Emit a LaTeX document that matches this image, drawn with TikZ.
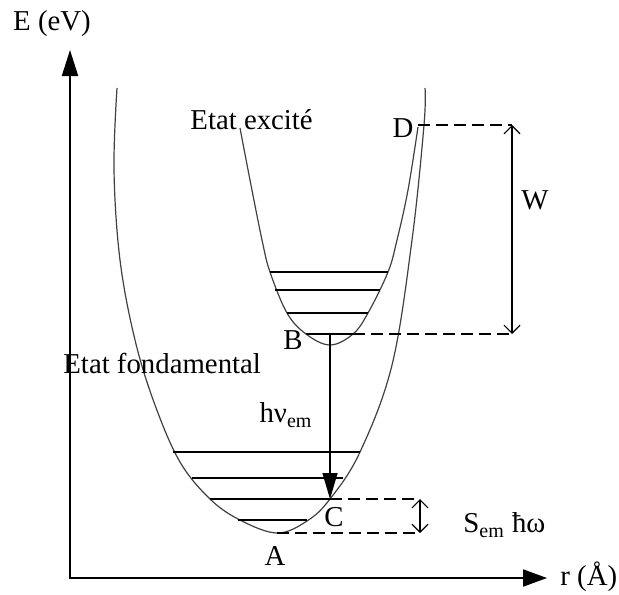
\documentclass[tikz,border=0pt]{standalone}
\usepackage{fontspec}
\setmainfont{Liberation Serif}
\usetikzlibrary{arrows.meta}

\begin{document}
\begin{tikzpicture}[
  x=0.5pt, y=-0.5pt,
  font=\fontsize{14.4}{17}\selectfont,
  axis/.style={line width=1pt, {Triangle[length=13pt, width=8pt]}-{Triangle[length=12pt, width=8.5pt]}},
  curve/.style={line width=0.6pt, draw=black!75},
  level/.style={line width=0.7pt},
  guide/.style={line width=0.7pt, dash pattern=on 6pt off 3pt},
  span/.style={line width=0.6pt, {Straight Barb[length=4pt, width=8pt]}-{Straight Barb[length=4pt, width=8pt]}},
  emit/.style={line width=0.7pt, -{Triangle[length=13pt, width=7.5pt]}},
  lbl/.style={inner sep=0pt}
]
\useasboundingbox (0,0) rectangle (619,594);

% axes
\coordinate (O) at (70,578);
\coordinate (Etip) at (70,50);
\coordinate (rtip) at (547,578);
\draw[axis] (Etip) -- (O) -- (rtip);
\node[lbl] (Elabel) at (52,24) {E (eV)};
\node[lbl, anchor=west] (rlabel) at (560,577) {r (Å)};

% potential curves
\draw[curve] plot[smooth, tension=0.6] coordinates {(117,88) (114,170) (120,260) (135,340) (155,405) (180,462) (210,499) (240,520) (277,533) (307,521) (330,499) (360,452) (392,365) (412,240) (424,125) (425,88)};
\draw[curve] plot[smooth, tension=0.6] coordinates {(240,128) (250,180) (262,240) (270,272) (287,313) (306,334) (330,345) (353,334) (368,313) (388,272) (397,240) (408,190) (418,127)};

% vibrational levels
\foreach \y/\xa/\xb in {452/173/360, 478/192/343, 499/210/330, 520/238/307,
                        272/270/388, 290/275/380, 313/287/368, 334/306/353}
  \draw[level] (\xa,\y) -- (\xb,\y);

% points
\coordinate (A) at (277,533);
\coordinate (B) at (330,334);
\coordinate (Bend) at (353,334);
\coordinate (C) at (330,499);
\coordinate (D) at (418,125);
\coordinate (Wtop) at (512,125);
\coordinate (Wbot) at (512,334);
\coordinate (Stop) at (420,499);
\coordinate (Sbot) at (420,533);

\node[lbl] (labA) at (275,556) {A};
\node[lbl] (labB) at (293,340) {B};
\node[lbl] (labC) at (334,517) {C};
\node[lbl] (labD) at (403,128) {D};
\node[lbl, anchor=west] (excited) at (190,120) {Etat excité};
\node[lbl, anchor=west] (ground) at (63,363) {Etat fondamental};

% guides and spans
\draw[guide] (D) -- (Wtop);
\draw[guide] (Bend) -- (Wbot);
\draw[guide] (C) -- (Stop);
\draw[guide] (A) -- (Sbot);
\draw[span] (Wtop) -- (Wbot);
\draw[span] (Stop) -- (Sbot);
\node[lbl] (labW) at (535,200) {W};
\node[lbl, anchor=west] (Shw) at (463,525) {S\textsubscript{em} ħω};

% emission
\draw[emit] (B) -- (C);
\node[lbl] (hnu) at (286,415) {hν\textsubscript{em}};
\end{tikzpicture}
\end{document}
